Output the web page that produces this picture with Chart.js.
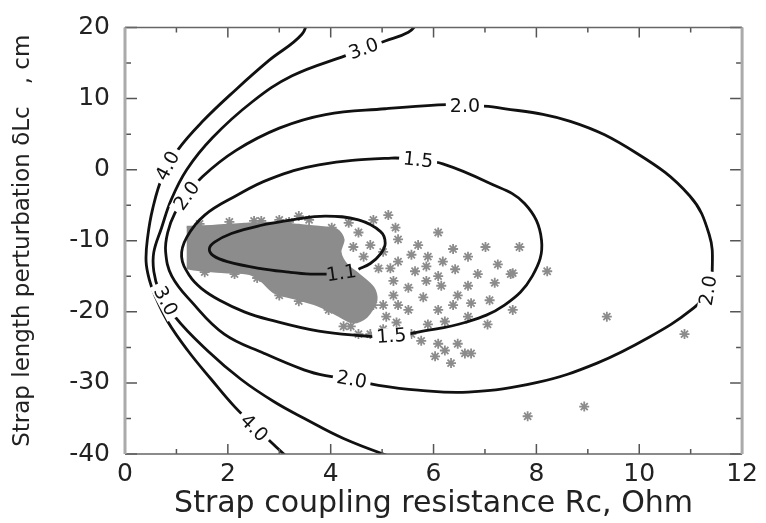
<!DOCTYPE html>
<html>
<head>
<meta charset="utf-8">
<script src="https://cdn.jsdelivr.net/npm/chart.js@4.4.0/dist/chart.umd.min.js"></script>
<style>
  html, body { margin: 0; padding: 0; background: #fff; }
</style>
</head>
<body>
<canvas id="resistanceChart" width="766" height="523"></canvas>
<script>
// axes
const xRange = [0, 12];
const yRange = [-40, 20];

// contour levels, [Rc, dLc]
const level11 = [[4.54,-14.01],[4.77,-13.20],[4.97,-11.84],[5.06,-10.34],[4.97,-8.71],[4.54,-7.07],[3.90,-6.53],
  [3.25,-7.07],[2.61,-7.89],[2.07,-8.98],[1.74,-10.20],[1.64,-11.16],[1.72,-12.11],[1.99,-12.93],[2.61,-13.88],
  [3.19,-14.42],[3.61,-14.69],[3.92,-14.69]];
const level15 = [[5.41,-23.27],[5.70,-22.86],[6.61,-21.50],[7.38,-19.05],[7.92,-14.97],[8.10,-9.93],[7.77,-4.76],
  [7.05,-1.77],[6.18,0.82],[5.70,1.36],[5.18,1.63],[3.77,0.68],[2.80,-1.36],[2.16,-3.67],[1.55,-6.39],[1.20,-9.52],
  [1.10,-12.24],[1.26,-14.97],[1.49,-16.73],[1.84,-18.37],[2.32,-20.0],[2.80,-21.09],[3.77,-22.72],[4.68,-23.40],
  [5.02,-23.54],[5.41,-23.27]];
const level20 = [[6.86,8.98],[7.15,8.84],[8.66,6.80],[9.95,2.31],[10.98,-3.67],[11.36,-9.12],[11.42,-13.88],
  [11.34,-17.01],[11.01,-19.73],[10.20,-23.54],[9.18,-27.21],[8.02,-29.93],[6.67,-31.29],[5.70,-31.02],[4.93,-30.34],
  [4.41,-29.52],[3.90,-28.98],[3.48,-28.16],[2.71,-25.85],[1.93,-23.13],[1.30,-18.64],[0.91,-14.97],[0.79,-11.56],
  [0.83,-8.84],[0.97,-6.12],[1.20,-3.67],[1.51,-0.95],[2.16,2.72],[3.00,5.85],[3.90,7.76],[5.06,8.57],[6.09,9.12],
  [6.47,9.12],[6.86,8.98]];
const level30 = [[5.70,20.68],[5.51,19.32],[5.06,18.10],[4.29,16.05],[3.25,13.20],[2.47,9.52],[1.70,4.49],[1.20,0.0],
  [0.90,-4.2],[0.71,-8.2],[0.56,-11.6],[0.56,-14.3],[0.66,-16.9],[0.97,-20.68],[1.60,-25.44],[2.26,-29.52],
  [2.90,-32.65],[3.48,-34.97],[4.25,-37.82],[5.18,-40.41],[5.51,-41.09]];
const level40 = [[3.58,21.77],[3.44,19.05],[2.80,15.37],[2.16,11.29],[1.51,6.80],[1.02,2.72],[0.73,-0.95],[0.54,-5.44],
  [0.44,-9.52],[0.41,-12.93],[0.48,-15.65],[0.58,-17.69],[0.83,-21.36],[1.22,-25.44],[1.68,-29.52],[2.13,-33.33],
  [2.61,-36.73],[3.15,-40.41],[3.38,-41.77]];

// contour label: text, Rc, dLc, angle (deg), white box behind
const contourLabels = [
  ['1.1', 4.21, -14.56, -8, false],
  ['1.5', 5.70, 1.36, 6, true],
  ['1.5', 5.18, -23.40, -4, true],
  ['2.0', 6.61, 8.98, 0, true],
  ['2.0', 11.34, -17.0, -80, true],
  ['2.0', 4.41, -29.52, 10, true],
  ['2.0', 1.20, -3.67, -54, true],
  ['3.0', 4.64, 17.0, -20, true],
  ['3.0', 0.79, -18.5, 62, true],
  ['4.0', 0.83, 0.54, -62, true],
  ['4.0', 2.51, -36.33, 45, true]
];

// dense part of the measured cloud
const cloudCore = [[1.20,-8.03],[1.74,-7.89],[2.32,-7.62],[2.90,-7.48],[3.38,-7.76],[3.77,-8.03],[4.12,-8.44],
  [4.25,-9.80],[4.19,-11.56],[4.31,-13.33],[4.54,-14.69],[4.83,-16.60],[4.89,-18.37],[4.70,-20.68],[4.44,-21.50],
  [4.12,-20.41],[3.73,-19.05],[3.29,-18.10],[2.90,-17.28],[2.65,-15.65],[2.42,-14.69],[1.93,-14.42],[1.45,-14.15],
  [1.20,-13.88]];

// single measurements
const measured = [[5.12,-6.39],[5.26,-8.16],[5.31,-9.80],[6.09,-8.84],[6.38,-11.16],[7.67,-10.88],[8.21,-14.29],
  [7.54,-14.56],[7.19,-15.92],[7.09,-18.37],[6.73,-18.78],[7.54,-19.73],[7.05,-21.77],[9.37,-20.68],[10.88,-23.13],
  [8.93,-33.33],[7.83,-34.69],[6.47,-24.49],[6.61,-25.85],[6.22,-25.44],[6.34,-27.21],[6.03,-26.26],[6.09,-24.49],
  [6.73,-25.85],[6.22,-21.36],[5.57,-23.13],[5.76,-24.08],[5.89,-12.24],[5.57,-11.97],[5.31,-12.93],[6.42,-14.01],
  [6.09,-14.97],[6.15,-16.33],[6.47,-17.69],[7.50,-14.69],[5.64,-14.29],[5.80,-17.96],[5.51,-19.73],[5.28,-21.50],
  [5.02,-22.45],[5.22,-15.65],[4.93,-13.88],[4.64,-12.24],[4.77,-10.61],[4.54,-8.84],[4.02,-8.16],[3.58,-7.07],
  [4.35,-7.48],[4.83,-7.07],[5.02,-19.05],[4.77,-23.13],[4.54,-23.13],[4.25,-22.04],[5.22,-17.69],[5.51,-16.60],
  [5.86,-15.65],[5.86,-13.61],[6.18,-12.93],[6.67,-12.24],[6.86,-14.69],[6.67,-16.33],[6.38,-19.05],[6.09,-19.73],
  [5.89,-21.77],[6.67,-20.68],[7.25,-13.33],[7.01,-10.88],[5.70,-10.61],[3.38,-6.53],[3.00,-7.07],[2.51,-7.21],
  [1.45,-7.62],[2.03,-7.35],[2.65,-7.21],[3.19,-7.35],[1.55,-14.42],[2.13,-14.69],[2.57,-15.24],[3.00,-17.69],
  [3.38,-18.50],[3.96,-19.73],[4.39,-22.04],[4.44,-10.88],[4.64,-16.60],[4.39,-19.05],[5.02,-11.56],[5.16,-13.88],
  [4.83,-19.05],[5.31,-19.05],[5.08,-20.68]];

const grey = '#8c8c8c';
const font = 'DejaVu Sans';

const toPoints = arr => arr.map(([x, y]) => ({x, y}));

function contour(points) {
  return {
    type: 'line', data: toPoints(points), borderColor: '#111', borderWidth: 2.8,
    pointRadius: 0, tension: 0.4, fill: false
  };
}

// inward ticks on all four sides plus the frame
const frameTicks = {
  id: 'frameTicks',
  afterDraw(chart) {
    const {ctx, chartArea: a, scales: {x, y}} = chart;
    ctx.save();
    ctx.strokeStyle = '#555';
    ctx.lineWidth = 1.5;
    ctx.beginPath();
    for (let v = xRange[0]; v <= xRange[1]; v += 1) {
      const px = x.getPixelForValue(v);
      const len = v % 2 === 0 ? 10 : 5;
      ctx.moveTo(px, a.bottom); ctx.lineTo(px, a.bottom - len);
      ctx.moveTo(px, a.top); ctx.lineTo(px, a.top + len);
    }
    for (let v = yRange[0]; v <= yRange[1]; v += 5) {
      const py = y.getPixelForValue(v);
      const len = v % 10 === 0 ? 12 : 6;
      ctx.moveTo(a.left, py); ctx.lineTo(a.left + len, py);
      ctx.moveTo(a.right, py); ctx.lineTo(a.right - len, py);
    }
    ctx.stroke();
    ctx.strokeStyle = '#666';
    ctx.lineWidth = 1.5;
    ctx.beginPath();
    ctx.moveTo(a.left, a.top); ctx.lineTo(a.right, a.top);
    ctx.moveTo(a.left, a.bottom); ctx.lineTo(a.right, a.bottom);
    ctx.stroke();
    ctx.strokeStyle = '#aaa';
    ctx.lineWidth = 3;
    ctx.beginPath();
    ctx.moveTo(a.left, a.top); ctx.lineTo(a.left, a.bottom);
    ctx.moveTo(a.right, a.top); ctx.lineTo(a.right, a.bottom);
    ctx.stroke();
    ctx.restore();
  }
};

// contour level labels sitting in gaps of the lines
const levelText = {
  id: 'levelText',
  afterDatasetsDraw(chart) {
    const {ctx, scales: {x, y}} = chart;
    ctx.save();
    ctx.font = '19px "' + font + '"';
    ctx.textAlign = 'center';
    ctx.textBaseline = 'middle';
    contourLabels.forEach(([text, vx, vy, angle, box]) => {
      const w = ctx.measureText(text).width;
      ctx.save();
      ctx.translate(x.getPixelForValue(vx), y.getPixelForValue(vy));
      ctx.rotate(angle * Math.PI / 180);
      if (box) {
        ctx.fillStyle = '#fff';
        ctx.fillRect(-w / 2 - 4, -8, w + 8, 16);
      }
      ctx.fillStyle = '#111';
      ctx.fillText(text, 0, 1);
      ctx.restore();
    });
    ctx.restore();
  }
};

const ctx = document.getElementById('resistanceChart').getContext('2d');
const chart = new Chart(ctx, {
  type: 'scatter',
  data: {
    datasets: [
      contour(level11), contour(level15), contour(level20), contour(level30), contour(level40),
      {
        type: 'line', data: toPoints(cloudCore), borderColor: grey, borderWidth: 2,
        backgroundColor: grey, fill: 'shape', pointRadius: 0, tension: 0.3
      },
      {
        data: toPoints(measured), pointStyle: 'star', pointRadius: 5,
        borderColor: grey, backgroundColor: grey, borderWidth: 1.8
      }
    ]
  },
  options: {
    responsive: false,
    animation: false,
    layout: { padding: { top: 13, right: 20, left: 0, bottom: 0 } },
    plugins: { legend: { display: false }, tooltip: { enabled: false } },
    scales: {
      x: {
        type: 'linear', min: xRange[0], max: xRange[1],
        afterFit: s => { s.height = 69; },
        grid: { display: false, drawTicks: false },
        border: { display: false },
        ticks: { stepSize: 2, maxRotation: 0, color: '#222', padding: 8,
                 font: { family: font, size: 25, lineHeight: 1 } },
        title: { display: true, text: 'Strap coupling resistance Rc, Ohm', color: '#222',
                 font: { family: font, size: 30, lineHeight: 1 }, padding: { top: 0, bottom: 4 } }
      },
      y: {
        type: 'linear', min: yRange[0], max: yRange[1],
        afterFit: s => { s.width = 125; },
        grid: { display: false, drawTicks: false },
        border: { display: false },
        ticks: { stepSize: 10, color: '#222', padding: 15,
                 font: { family: font, size: 25, lineHeight: 1 } },
        title: { display: true, text: 'Strap length perturbation \u03b4Lc   , cm', color: '#222',
                 font: { family: font, size: 23, lineHeight: 1 }, padding: { top: 12, bottom: 0 } }
      }
    }
  },
  plugins: [frameTicks, levelText]
});
</script>
</body>
</html>
